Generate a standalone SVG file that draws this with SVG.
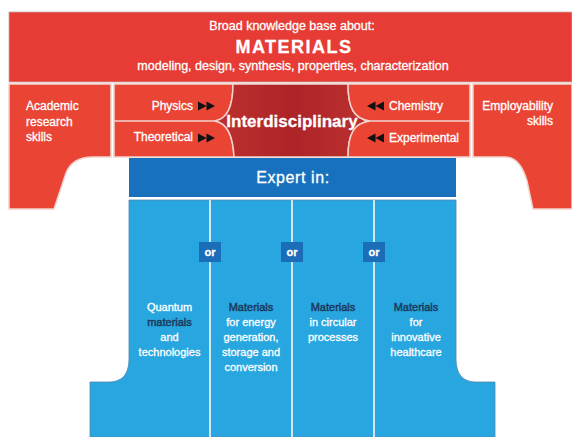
<svg xmlns="http://www.w3.org/2000/svg" width="572" height="437" viewBox="0 0 572 437">
  <style>
    .red { fill: #ea4434; stroke: #f1d3cd; stroke-width: 1.5; }
    .txt { font-family: "Liberation Sans", Arial, sans-serif; fill: #ffffff; stroke: #ffffff; stroke-width: 0.3; }
    .s12 { font-size: 12px; }
    .col { font-size: 11px; text-anchor: middle; }
    .navy { fill: #1b3a5e; stroke: #1b3a5e; stroke-width: 0.45; }
    .sep { stroke: #f1d3cd; stroke-width: 1.5; fill: none; }
    .div { stroke: #d3e5ef; stroke-width: 2; }
    .orbox { fill: #1a6db6; }
  </style>
  <defs>
    <linearGradient id="core" x1="0" y1="0" x2="1" y2="0">
      <stop offset="0" stop-color="#bd302e"/>
      <stop offset="0.5" stop-color="#ad2428"/>
      <stop offset="1" stop-color="#bd302e"/>
    </linearGradient>
    <!-- double play triangles -->
    <path id="dbl" d="M0,-4.5 L8.5,0 L0,4.5 Z M8.5,-4.5 L17,0 L8.5,4.5 Z" fill="#111111"/>
  </defs>

  <!-- Broad knowledge banner -->
  <g id="banner">
    <rect x="9" y="12" width="563" height="70" fill="#e63c35" stroke="#c9a9a5" stroke-width="0.8"/>
    <text class="txt" x="292" y="30" font-size="12.5" text-anchor="middle">Broad knowledge base about:</text>
    <text class="txt" x="294" y="53" font-size="18" font-weight="bold" letter-spacing="1.5" text-anchor="middle">MATERIALS</text>
    <text class="txt" x="293" y="70" font-size="12.5" text-anchor="middle">modeling, design, synthesis, properties, characterization</text>
  </g>

  <!-- Academic research skills (left leg) -->
  <g id="academic">
    <path class="red" d="M9,84 H111 V157 H93 C78,157 70,163 66,173 L54,209 H9 Z"/>
    <text class="txt s12" x="26" y="110">Academic</text>
    <text class="txt s12" x="26" y="126">research</text>
    <text class="txt s12" x="26" y="141">skills</text>
  </g>

  <!-- Physics / Theoretical -->
  <g id="physics-theoretical">
    <path class="red" d="M114,84 H233 C233,108 227,119 215,121 C227,123 233,134 234,157 H114 Z"/>
    <line class="sep" x1="114" y1="121" x2="215" y2="121"/>
    <text class="txt s12" x="193" y="110" text-anchor="end">Physics</text>
    <use href="#dbl" x="198" y="106"/>
    <text class="txt s12" x="193" y="141" text-anchor="end">Theoretical</text>
    <use href="#dbl" x="198" y="138"/>
  </g>

  <!-- Interdisciplinary core -->
  <g id="interdisciplinary">
    <path d="M233,84 H348 C348,108 354,119 370,121 C354,123 348,134 348,157 H234 C233,134 227,123 215,121 C227,119 233,108 233,84 Z" fill="url(#core)" stroke="#f1d3cd" stroke-width="1.5"/>
    <text class="txt" x="292" y="127" font-size="17" font-weight="bold" text-anchor="middle">Interdisciplinary</text>
  </g>

  <!-- Chemistry / Experimental -->
  <g id="chemistry-experimental">
    <path class="red" d="M348,84 H470 V157 H348 C348,134 354,123 370,121 C354,119 348,108 348,84 Z"/>
    <line class="sep" x1="370" y1="121" x2="470" y2="121"/>
    <use href="#dbl" transform="translate(384,106) scale(-1,1)"/>
    <text class="txt s12" x="389" y="110">Chemistry</text>
    <use href="#dbl" transform="translate(384,138) scale(-1,1)"/>
    <text class="txt s12" x="389" y="142">Experimental</text>
  </g>

  <!-- Employability skills (right leg) -->
  <g id="employability">
    <path class="red" d="M473,84 H572 V209 H533 L527,181 C523,167 517,157 505,157 H473 Z"/>
    <text class="txt s12" x="553" y="110" text-anchor="end">Employability</text>
    <text class="txt s12" x="553" y="125" text-anchor="end">skills</text>
  </g>

  <!-- Expert in header -->
  <g id="expert">
    <rect x="129" y="158" width="327" height="39" fill="#1871bd"/>
    <text class="txt" x="293" y="183" font-size="16" letter-spacing="0.6" text-anchor="middle">Expert in:</text>
  </g>

  <!-- Specialisation columns -->
  <g id="columns">
    <path d="M129,200 H456 V358 C456,375 463,382 477,382 H495 V437 H90 V382 H108 C122,382 129,375 129,358 Z" fill="#28a6df" stroke="#4f88b0" stroke-width="0.8"/>
  </g>

  <g id="connectors">
    <line class="div" x1="210" y1="200" x2="210" y2="437"/>
    <line class="div" x1="292" y1="200" x2="292" y2="437"/>
    <line class="div" x1="374" y1="200" x2="374" y2="437"/>
  </g>

  <g id="or-1">
    <rect class="orbox" x="199" y="242" width="22" height="20"/>
    <text class="txt" x="210" y="256" font-size="11" font-weight="bold" text-anchor="middle">or</text>
  </g>
  <g id="or-2">
    <rect class="orbox" x="281" y="242" width="22" height="20"/>
    <text class="txt" x="292" y="256" font-size="11" font-weight="bold" text-anchor="middle">or</text>
  </g>
  <g id="or-3">
    <rect class="orbox" x="363" y="242" width="22" height="20"/>
    <text class="txt" x="374" y="256" font-size="11" font-weight="bold" text-anchor="middle">or</text>
  </g>

  <g id="quantum">
    <text class="txt col" x="169.5" y="311">Quantum</text>
    <text class="txt col navy" x="169.5" y="326">materials</text>
    <text class="txt col" x="169.5" y="341">and</text>
    <text class="txt col" x="169.5" y="356">technologies</text>
  </g>
  <g id="energy">
    <text class="txt col navy" x="251" y="311">Materials</text>
    <text class="txt col" x="251" y="326">for energy</text>
    <text class="txt col" x="251" y="341">generation,</text>
    <text class="txt col" x="251" y="356">storage and</text>
    <text class="txt col" x="251" y="371">conversion</text>
  </g>
  <g id="circular">
    <text class="txt col navy" x="333" y="311">Materials</text>
    <text class="txt col" x="333" y="326">in circular</text>
    <text class="txt col" x="333" y="341">processes</text>
  </g>
  <g id="healthcare">
    <text class="txt col navy" x="416" y="311">Materials</text>
    <text class="txt col" x="416" y="326">for</text>
    <text class="txt col" x="416" y="341">innovative</text>
    <text class="txt col" x="416" y="356">healthcare</text>
  </g>
</svg>
